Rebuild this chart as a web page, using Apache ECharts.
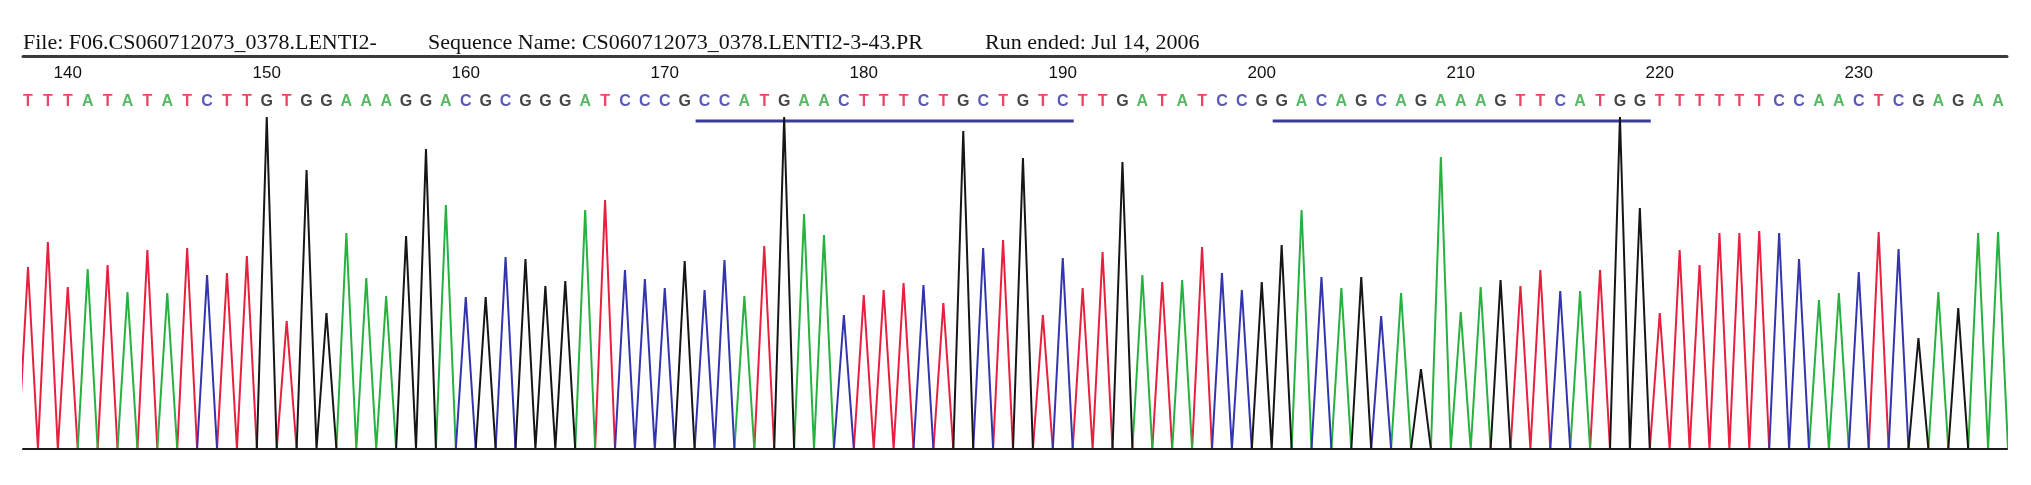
<!DOCTYPE html>
<html>
<head>
<meta charset="utf-8">
<script src="https://cdn.jsdelivr.net/npm/echarts@6/dist/echarts.min.js"></script>
<style>
  html, body { margin: 0; padding: 0; background: #fff; }
  #chart { width: 2031px; height: 485px; }
</style>
</head>
<body>
<div id="chart"></div>
<script>
// base calls, first base is position 138
const firstPos = 138;
const bases = 'TTTATATATCTTGTGGAAAGGACGCGGGATCCCGCCATGAACTTTCTGCTGTCTTGATATCCGGACAGCAGAAAGTTCATGGTTTTTTCCAACTCGAGAA'.split('');
// peak height of each base call
const peakHeights = [
  182, 207, 162, 180, 184, 157, 199, 156, 201, 174, 176, 193, 332, 128, 279, 136, 216, 171, 153, 213,
  300, 244, 152, 152, 192, 190, 163, 168, 239, 249, 179, 170, 161, 188, 159, 189, 153, 203, 332, 235,
  214, 134, 154, 159, 166, 164, 146, 318, 201, 209, 291, 134, 191, 161, 197, 287, 174, 167, 169, 202,
  176, 159, 167, 204, 239, 172, 161, 172, 133, 156, 80, 292, 137, 162, 169, 163, 179, 158, 158, 179,
  332, 241, 136, 199, 184, 216, 216, 218, 216, 190, 149, 156, 177, 217, 200, 111, 157, 141, 216, 217
];
const tickValues = [140, 150, 160, 170, 180, 190, 200, 210, 220, 230];
// underlined primer sites [first, last] base position
const primerSites = [[172, 190], [201, 219]];
const headerParts = [
  'File: F06.CS060712073_0378.LENTI2-',
  'Sequence Name: CS060712073_0378.LENTI2-3-43.PR',
  'Run ended: Jul 14, 2006'
];

const baseColors = { A: '#2aa83c', C: '#2f2fa6', G: '#151515', T: '#e4193f' };
const traceColors = { A: '#27b13f', C: '#3434ae', G: '#161616', T: '#e8203f' };
const LETTER_Y = 347;
const BAR_Y = 328;

const chart = echarts.init(document.getElementById('chart'), null, { renderer: 'canvas' });

// one trace per dye: a peak at every base called for that dye
const traceSeries = ['T', 'A', 'C', 'G'].map(b => {
  const pts = [];
  bases.forEach((c, i) => {
    if (c !== b) return;
    const p = firstPos + i;
    pts.push([p - 0.5, 0], [p, peakHeights[i]], [p + 0.5, 0]);
  });
  return {
    type: 'line',
    data: pts,
    symbol: 'none',
    lineStyle: { color: traceColors[b], width: 2 },
    z: 3,
    silent: true
  };
});

const letterSeries = {
  type: 'scatter',
  symbolSize: 1,
  itemStyle: { color: 'rgba(0,0,0,0)' },
  data: bases.map((c, i) => ({
    value: [firstPos + i, LETTER_Y],
    label: { color: baseColors[c] }
  })),
  label: {
    show: true,
    position: 'inside',
    formatter: p => bases[p.dataIndex],
    fontFamily: 'Liberation Sans',
    fontWeight: 'bold',
    fontSize: 16
  },
  z: 4,
  silent: true
};

const primerSeries = primerSites.map(([a, b]) => ({
  type: 'line',
  data: [[a - 0.45, BAR_Y], [b + 0.55, BAR_Y]],
  symbol: 'none',
  lineStyle: { color: '#3b3b98', width: 3 },
  z: 2,
  silent: true
}));

const headerX = [23, 428, 985];

chart.setOption({
  animation: false,
  backgroundColor: '#fff',
  title: headerParts.map((t, i) => ({
    text: t,
    left: headerX[i],
    top: 32,
    padding: 0,
    textStyle: {
      fontFamily: 'Liberation Serif',
      fontSize: 22,
      fontWeight: 'normal',
      color: '#111'
    }
  })),
  grid: { left: 23, right: 24, top: 56, bottom: 36 },
  xAxis: [{
    type: 'value',
    position: 'top',
    min: 137.75,
    max: 237.45,
    axisLine: { show: true, onZero: false, lineStyle: { color: '#3a3a3a', width: 3 } },
    axisTick: { show: false },
    splitLine: { show: false },
    axisLabel: {
      inside: true,
      margin: 9,
      customValues: tickValues,
      fontFamily: 'Liberation Sans',
      fontSize: 17,
      color: '#111'
    }
  }, {
    // trace baseline
    type: 'value',
    position: 'bottom',
    min: 137.75,
    max: 237.45,
    z: 5,
    axisLine: { show: true, onZero: false, lineStyle: { color: '#1c1c1c', width: 2 } },
    axisTick: { show: false },
    axisLabel: { show: false },
    splitLine: { show: false }
  }],
  yAxis: { type: 'value', min: 0, max: 393, show: false },
  series: [...primerSeries, ...traceSeries, letterSeries]
});
</script>
</body>
</html>
